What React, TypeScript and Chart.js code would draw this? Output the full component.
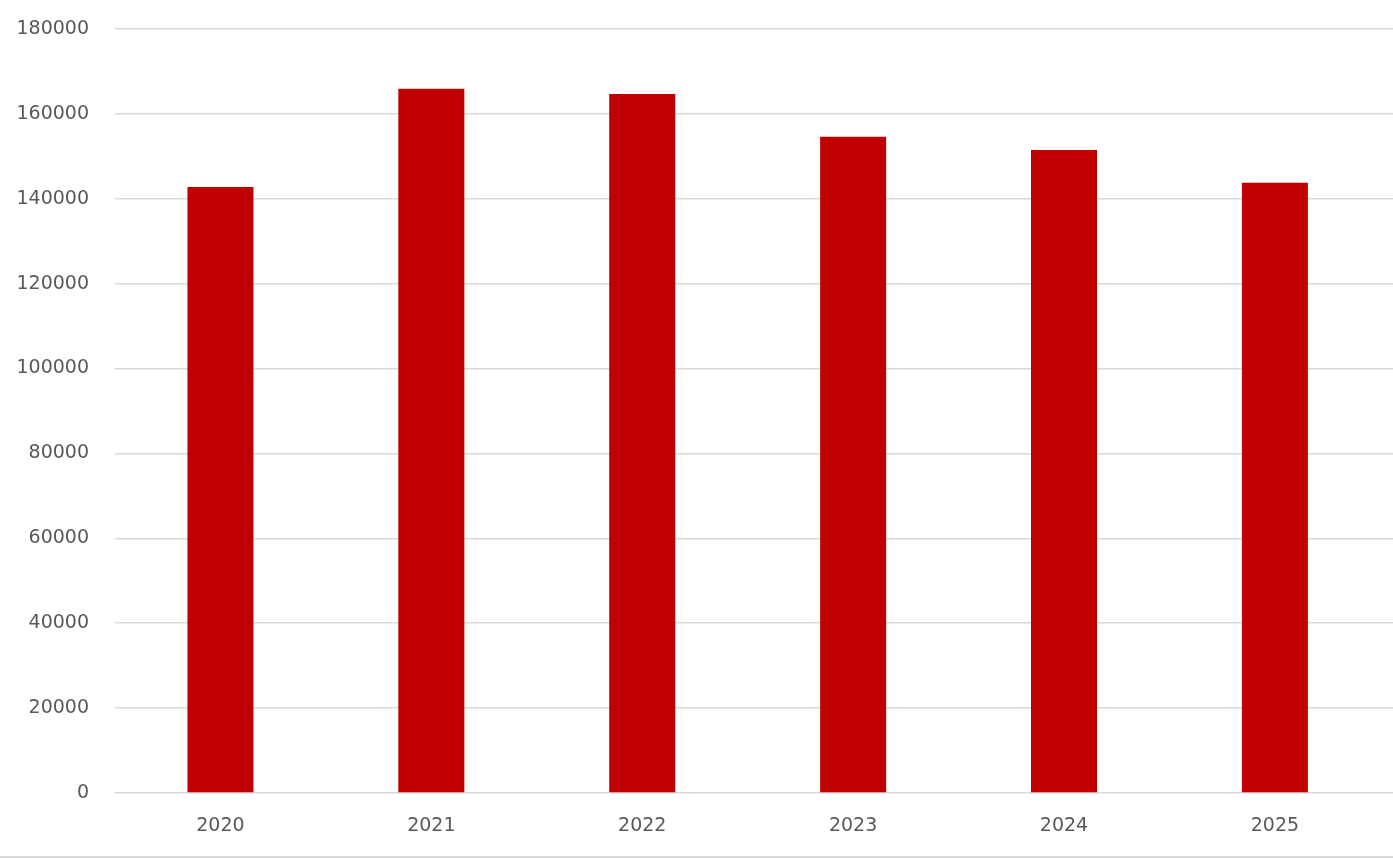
import { useEffect, useRef } from "react";
import { Chart, registerables } from "chart.js";

Chart.register(...registerables);

const YEARS = [2020, 2021, 2022, 2023, 2024, 2025];
const VALUES = [142800, 165900, 164700, 154600, 151500, 143800];
const Y_TICKS = [0, 20000, 40000, 60000, 80000, 100000, 120000, 140000, 160000, 180000];

const BAR_COLOR = "#c00000";
const GRID_COLOR = "#d9d9d9";
const TEXT_COLOR = "#595959";
const FONT = { family: "'DejaVu Sans', sans-serif", size: 19 };

export default function App() {
  const canvasRef = useRef<HTMLCanvasElement>(null);
  const chartRef = useRef<Chart | null>(null);

  useEffect(() => {
    if (!canvasRef.current) return;
    const ctx = canvasRef.current.getContext("2d");
    if (!ctx) return;

    chartRef.current?.destroy();

    chartRef.current = new Chart(ctx, {
      type: "bar",
      data: {
        datasets: [
          {
            data: YEARS.map((year, i) => ({ x: year, y: VALUES[i] })),
            backgroundColor: BAR_COLOR,
            borderWidth: 0,
            barPercentage: 0.313,
            categoryPercentage: 1
          }
        ]
      },
      options: {
        animation: false,
        responsive: true,
        maintainAspectRatio: false,
        layout: { padding: { left: 0, top: 29, right: 0, bottom: 0 } },
        plugins: {
          legend: { display: false },
          tooltip: { enabled: false }
        },
        scales: {
          x: {
            type: "linear",
            offset: false,
            min: YEARS[0] - 0.5,
            max: YEARS[YEARS.length - 1] + 0.56,
            afterBuildTicks: (scale) => {
              scale.ticks = YEARS.map((value) => ({ value }));
            },
            afterFit: (scale) => {
              scale.height = 63;
            },
            grid: { display: false, drawTicks: false },
            border: { display: false },
            ticks: {
              color: TEXT_COLOR,
              font: FONT,
              padding: 22,
              maxRotation: 0,
              callback: (value) => String(value)
            }
          },
          y: {
            min: Y_TICKS[0],
            max: Y_TICKS[Y_TICKS.length - 1],
            afterBuildTicks: (scale) => {
              scale.ticks = Y_TICKS.map((value) => ({ value }));
            },
            afterFit: (scale) => {
              scale.width = 115;
              scale.paddingTop = 0;
              scale.paddingBottom = 0;
            },
            grid: { color: GRID_COLOR, lineWidth: 1.5, drawTicks: false },
            border: { display: false },
            ticks: {
              color: TEXT_COLOR,
              font: FONT,
              padding: 26,
              callback: (value) => String(value)
            }
          }
        }
      }
    });

    return () => {
      chartRef.current?.destroy();
      chartRef.current = null;
    };
  }, []);

  return (
    <div
      style={{
        position: "fixed",
        left: 0,
        top: 0,
        width: 1393,
        height: 860,
        background: "#ffffff",
        overflow: "hidden"
      }}
    >
      <div style={{ position: "absolute", left: 0, top: 0, width: 1393, height: 856 }}>
        <canvas ref={canvasRef} />
      </div>
      <div
        style={{
          position: "absolute",
          left: 0,
          right: 0,
          top: 856,
          height: 1.5,
          background: GRID_COLOR
        }}
      />
    </div>
  );
}
